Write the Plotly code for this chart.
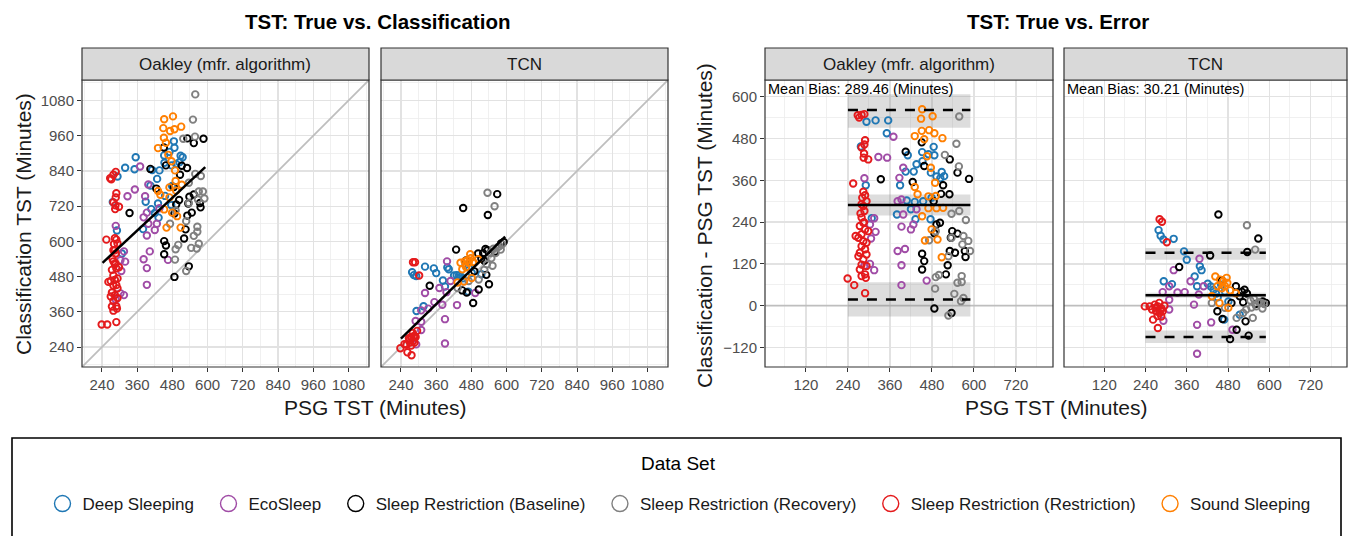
import plotly.graph_objects as go

W, H = 1355, 536

DATASETS = ["Deep Sleeping", "EcoSleep", "Sleep Restriction (Baseline)",
            "Sleep Restriction (Recovery)", "Sleep Restriction (Restriction)", "Sound Sleeping"]
COLORS = ["#1f77b4", "#a04ca6", "#000000", "#808080", "#e41a1c", "#ff7f00"]
FACETS = ["Oakley (mfr. algorithm)", "TCN"]

# ---------------- Oakley (mfr. algorithm): PSG TST and error (classification - PSG) ----------------
OAK_DEEP_PSG = [293, 319, 355, 351, 277, 485, 452, 470, 487, 411, 436, 453, 405, 428, 477, 508, 515, 493, 504,
                291, 389, 408, 431, 455, 479, 380, 420, 433, 476, 308]
OAK_DEEP_ERR = [528, 532, 532, 495, 457, 456, 441, 435, 432, 432, 406, 415, 385, 385, 382, 384, 372, 371, 366,
                346, 346, 302, 298, 300, 310, 262, 277, 248, 248, 251]
OAK_ECO_PSG = [370, 327, 352, 398, 387, 287, 382, 393, 315, 303, 319, 306, 398, 436, 427, 420, 393, 382, 403,
               393, 287, 315, 303, 393, 465]
OAK_ECO_ERR = [485, 427, 425, 396, 367, 366, 300, 305, 251, 233, 212, 193, 262, 277, 233, 219, 227, 157, 163,
               116, 115, 102, 120, 59, 72]
OAK_BASE_PSG = [451, 405, 531, 458, 553, 586, 334, 425, 512, 506, 530, 485, 503, 493, 487, 538, 534, 553, 452,
                458, 452, 531, 525, 546, 574, 576, 520, 487, 536]
OAK_BASE_ERR = [469, 442, 420, 401, 382, 364, 363, 355, 346, 321, 320, 300, 238, 233, 208, 214, 195, 207, 149,
                128, 104, 157, 116, 152, 157, 140, 90, -8, -21]
OAK_RECOV_PSG = [558, 550, 517, 557, 536, 558, 577, 491, 472, 527, 536, 570, 584, 589, 567, 565, 553, 565, 544,
                 570, 563, 489, 491, 500, 527]
OAK_RECOV_ERR = [543, 465, 433, 400, 264, 272, 246, 214, 188, 142, 195, 200, 186, 157, 176, 85, 66, 68, 34,
                 22, 13, 49, 82, 88, -28]
OAK_RESTR_PSG = [268, 279, 287, 272, 289, 287, 279, 286, 285, 298, 255, 284, 289, 293, 279,
                 284, 287, 279, 284, 274, 289, 279, 298, 270, 284, 293, 279, 289, 274, 293, 270, 284,
                 279, 293, 274, 289, 279, 291, 262, 239, 258, 289, 281, 276, 286]
OAK_RESTR_ERR = [547, 548, 550, 540, 475, 463, 454, 437, 425, 420, 351, 327, 317, 300, 291,
                 286, 272, 253, 238, 229, 219, 205, 214, 195, 185, 181, 171, 162, 152, 147, 142, 133,
                 118, 114, 104, 90, 85, 80, 200, 78, 59, 36, 310, 265, 240]
OAK_SOUND_PSG = [452, 449, 482, 431, 451, 472, 487, 458, 510, 477, 466, 431, 489, 439, 470, 491, 470, 493, 512,
                 452, 479, 460, 508, 496]
OAK_SOUND_ERR = [564, 537, 544, 487, 502, 504, 495, 478, 481, 396, 429, 341, 353, 320, 314, 315, 280, 280, 281,
                 257, 219, 187, 139, 190]

# ---------------- TCN ----------------
TCN_DEEP_PSG = [278, 284, 292, 322, 352, 360, 293, 317, 383, 403, 390, 421, 438, 450, 471, 469, 481, 514, 398,
                430, 445, 460]
TCN_DEEP_ERR = [217, 201, 190, 192, 156, 132, 70, 62, 84, 102, 56, 63, 46, 24, 41, -40, 12, -26, 113,
                55, 35, 60]
TCN_ECO_PSG = [397, 322, 309, 290, 333, 354, 309, 309, 292, 371, 381, 390, 390, 431, 493, 409, 395]
TCN_ECO_ERR = [135, 102, 56, 39, 38, 39, 17, -11, -43, 70, 3, -55, -138, -48, -69, 56, 32]
TCN_BASE_PSG = [452, 568, 536, 428, 338, 462, 503, 528, 535, 514, 490, 524, 581, 590, 449, 464, 505, 531,
                486, 540, 560, 520]
TCN_BASE_ERR = [262, 193, 154, 144, 111, 73, 56, 46, 35, 27, 8, 10, 12, 8, -16, -38, -69, -45, -96, -86,
                5, 40]
TCN_RECOV_PSG = [535, 559, 433, 471, 505, 533, 552, 562, 576, 524, 545, 585, 555, 548, 570, 580]
TCN_RECOV_ERR = [231, 161, 8, -6, -35, -11, -35, -2, 8, -21, 15, 5, 20, -5, 10, -8]
TCN_RESTR_PSG = [281, 288, 302, 238, 252, 267, 276, 286, 295, 271, 281, 290, 262, 276, 286, 259, 270, 280,
                 285, 275]
TCN_RESTR_ERR = [248, 241, 182, -2, -2, 3, -2, -7, 0, -16, -21, -16, -40, -64, -31, -11, -5, 8, -12, -30]
TCN_SOUND_PSG = [443, 457, 476, 449, 471, 486, 503, 455, 433, 481, 466, 478, 462]
TCN_SOUND_ERR = [84, 75, 80, 56, 56, 44, 36, 8, 27, -6, 70, 65, 50]

OAK_SETS = [(OAK_DEEP_PSG, OAK_DEEP_ERR), (OAK_ECO_PSG, OAK_ECO_ERR), (OAK_BASE_PSG, OAK_BASE_ERR),
            (OAK_RECOV_PSG, OAK_RECOV_ERR), (OAK_RESTR_PSG, OAK_RESTR_ERR), (OAK_SOUND_PSG, OAK_SOUND_ERR)]
TCN_SETS = [(TCN_DEEP_PSG, TCN_DEEP_ERR), (TCN_ECO_PSG, TCN_ECO_ERR), (TCN_BASE_PSG, TCN_BASE_ERR),
            (TCN_RECOV_PSG, TCN_RECOV_ERR), (TCN_RESTR_PSG, TCN_RESTR_ERR), (TCN_SOUND_PSG, TCN_SOUND_ERR)]

# regression fit lines (true vs classification)
OAK_FIT_X = [242, 592]
OAK_FIT_Y = [527, 853]
TCN_FIT_X = [240, 595]
TCN_FIT_Y = [269, 616]

# Bland-Altman summaries
MEAN_BIAS = [289.46, 30.21]
LOA_UPPER = [562, 152]
LOA_LOWER = [18, -90]
BAND_X = [240, 590]
BAND_MEAN = [(259, 319), (23, 37)]
BAND_UPPER = [(511, 607), (132, 166)]
BAND_LOWER = [(-31, 67), (-107, -71)]

TICKS_SCATTER = [240, 360, 480, 600, 720, 840, 960, 1080]
TICKS_BA_X = [120, 240, 360, 480, 600, 720]
TICKS_BA_Y = [-120, 0, 120, 240, 360, 480, 600]
RANGE_SCATTER = [172, 1150]
RANGE_BA_X = [3, 826]
RANGE_BA_Y = [-176, 648]

FONT = "Liberation Sans, Arial, Helvetica, sans-serif"
GRID = "#e2e2e2"
GRID_MINOR = "#ececec"


def px_x(p):
    return p / W


def px_y(p):
    return 1 - p / H


PANEL_TOP, PANEL_BOT = 80, 367
STRIP_TOP = 48
DOMAINS_X = [(82, 369), (381, 668), (765, 1053), (1064, 1347)]

fig = go.Figure()

names = ["", "2", "3", "4"]


def add_points(sets, ax, ay, mode):
    for i, (psg, err) in enumerate(sets):
        if mode == "class":
            yv = [p + e for p, e in zip(psg, err)]
        else:
            yv = list(err)
        fig.add_trace(go.Scatter(
            x=psg, y=yv, mode="markers", xaxis=ax, yaxis=ay, showlegend=False, hoverinfo="skip",
            marker=dict(symbol="circle-open", size=6.5, color=COLORS[i], line=dict(width=1.9, color=COLORS[i]))))


# Left: identity lines
for k, (ax, ay) in enumerate([("x", "y"), ("x2", "y2")]):
    fig.add_trace(go.Scatter(x=RANGE_SCATTER, y=RANGE_SCATTER, mode="lines", xaxis=ax, yaxis=ay,
                             line=dict(color="#bebebe", width=1.8), showlegend=False, hoverinfo="skip"))
add_points(OAK_SETS, "x", "y", "class")
add_points(TCN_SETS, "x2", "y2", "class")
fig.add_trace(go.Scatter(x=OAK_FIT_X, y=OAK_FIT_Y, mode="lines", xaxis="x", yaxis="y",
                         line=dict(color="black", width=2.5), showlegend=False, hoverinfo="skip"))
fig.add_trace(go.Scatter(x=TCN_FIT_X, y=TCN_FIT_Y, mode="lines", xaxis="x2", yaxis="y2",
                         line=dict(color="black", width=2.5), showlegend=False, hoverinfo="skip"))

# Right: Bland-Altman
for k, (ax, ay, sets) in enumerate([("x3", "y3", OAK_SETS), ("x4", "y4", TCN_SETS)]):
    fig.add_trace(go.Scatter(x=RANGE_BA_X, y=[0, 0], mode="lines", xaxis=ax, yaxis=ay,
                             line=dict(color="#bebebe", width=1.8), showlegend=False, hoverinfo="skip"))
    for lo, hi in (BAND_UPPER[k], BAND_MEAN[k], BAND_LOWER[k]):
        fig.add_trace(go.Scatter(x=[BAND_X[0], BAND_X[1], BAND_X[1], BAND_X[0], BAND_X[0]],
                                 y=[lo, lo, hi, hi, lo], mode="lines", fill="toself",
                                 fillcolor="rgba(128,128,128,0.27)", line=dict(width=0),
                                 xaxis=ax, yaxis=ay, showlegend=False, hoverinfo="skip"))
    add_points(sets, ax, ay, "err")
    fig.add_trace(go.Scatter(x=BAND_X, y=[MEAN_BIAS[k]] * 2, mode="lines", xaxis=ax, yaxis=ay,
                             line=dict(color="black", width=2.5), showlegend=False, hoverinfo="skip"))
    for v in (LOA_UPPER[k], LOA_LOWER[k]):
        fig.add_trace(go.Scatter(x=BAND_X, y=[v, v], mode="lines", xaxis=ax, yaxis=ay,
                                 line=dict(color="black", width=2.5, dash="10px,9px"),
                                 showlegend=False, hoverinfo="skip"))

# Legend-only entries
NBSP = "\u00a0"
for i, name in enumerate(DATASETS):
    fig.add_trace(go.Scatter(x=[None], y=[None], mode="markers", name=name + NBSP * 2, xaxis="x", yaxis="y",
                             marker=dict(symbol="circle-open", size=16, color=COLORS[i],
                                         line=dict(width=1.4, color=COLORS[i]))))

axis_base = dict(showgrid=True, gridcolor=GRID, gridwidth=1.3, zeroline=False, showline=False,
                 ticks="outside", ticklen=4, tickwidth=1, tickcolor="#333333",
                 tickfont=dict(family=FONT, size=15, color="#4d4d4d"), tickmode="array",
                 minor=dict(showgrid=True, gridcolor=GRID_MINOR, gridwidth=0.8, dtick=60, tick0=0,
                            tickmode="linear", ticks=""), fixedrange=True)

layout = dict(width=W, height=H, margin=dict(l=0, r=0, t=0, b=0), plot_bgcolor="white",
              paper_bgcolor="white", font=dict(family=FONT, color="black"), showlegend=True)

for k in range(4):
    d = DOMAINS_X[k]
    xa = dict(axis_base)
    ya = dict(axis_base)
    xa["domain"] = [px_x(d[0]), px_x(d[1])]
    ya["domain"] = [px_y(PANEL_BOT), px_y(PANEL_TOP)]
    xname = "xaxis" + names[k]
    yname = "yaxis" + names[k]
    xa["anchor"] = "y" + names[k]
    ya["anchor"] = "x" + names[k]
    if k < 2:
        xa.update(range=RANGE_SCATTER, tickvals=TICKS_SCATTER)
        ya.update(range=RANGE_SCATTER, tickvals=TICKS_SCATTER)
    else:
        xa.update(range=RANGE_BA_X, tickvals=TICKS_BA_X)
        ya.update(range=RANGE_BA_Y, tickvals=TICKS_BA_Y)
    if k in (1, 3):
        ya.update(showticklabels=False, ticks="")
    layout[xname] = xa
    layout[yname] = ya

shapes = []
annotations = []
for k in range(4):
    xr = "x" + names[k] + " domain"
    yr = "y" + names[k] + " domain"
    shapes.append(dict(type="rect", xref=xr, yref=yr, x0=0, x1=1, y0=0, y1=1,
                       line=dict(color="#333333", width=1.2), layer="above"))
    shapes.append(dict(type="rect", xref=xr, yref="paper", x0=0, x1=1, y0=px_y(PANEL_TOP), y1=px_y(STRIP_TOP),
                       fillcolor="#d9d9d9", line=dict(color="#333333", width=1.2)))
    annotations.append(dict(text=FACETS[k % 2], xref=xr, yref="paper", x=0.5, y=px_y((PANEL_TOP + STRIP_TOP) / 2),
                            showarrow=False, font=dict(size=17, color="#1a1a1a"), xanchor="center", yanchor="middle"))

for k in (2, 3):
    annotations.append(dict(text="Mean Bias: %.2f (Minutes)" % MEAN_BIAS[k - 2], xref="x" + names[k] + " domain",
                            yref="paper", x=0.003, y=px_y(89), xanchor="left", yanchor="middle",
                            showarrow=False, font=dict(size=14.5, color="black")))

# titles
annotations += [
    dict(text="<b>TST: True vs. Classification</b>", xref="paper", yref="paper", x=px_x(377), y=px_y(22),
         showarrow=False, font=dict(size=20.5), xanchor="center", yanchor="middle"),
    dict(text="<b>TST: True vs. Error</b>", xref="paper", yref="paper", x=px_x(1058), y=px_y(22),
         showarrow=False, font=dict(size=20.5), xanchor="center", yanchor="middle"),
    dict(text="PSG TST (Minutes)", xref="paper", yref="paper", x=px_x(375), y=px_y(407),
         showarrow=False, font=dict(size=21, color="#1a1a1a"), xanchor="center", yanchor="middle"),
    dict(text="PSG TST (Minutes)", xref="paper", yref="paper", x=px_x(1056), y=px_y(407),
         showarrow=False, font=dict(size=21, color="#1a1a1a"), xanchor="center", yanchor="middle"),
    dict(text="Classification TST (Minutes)", xref="paper", yref="paper", x=px_x(23), y=px_y(224),
         showarrow=False, font=dict(size=21, color="#1a1a1a"), textangle=-90, xanchor="center", yanchor="middle"),
    dict(text="Classification - PSG TST (Minutes)", xref="paper", yref="paper", x=px_x(704), y=px_y(225),
         showarrow=False, font=dict(size=21, color="#1a1a1a"), textangle=-90, xanchor="center", yanchor="middle"),
    dict(text="Data Set", xref="paper", yref="paper", x=px_x(678), y=px_y(463),
         showarrow=False, font=dict(size=19, color="black"), xanchor="center", yanchor="middle"),
]

# legend box
shapes.append(dict(type="rect", xref="paper", yref="paper", x0=px_x(12), x1=px_x(1341), y0=-0.1, y1=px_y(438),
                   line=dict(color="black", width=1.6), fillcolor="rgba(0,0,0,0)"))

layout["shapes"] = shapes
layout["annotations"] = annotations
layout["legend"] = dict(orientation="h", x=px_x(684), xanchor="center", y=px_y(504), yanchor="middle",
                        font=dict(size=17, color="#1a1a1a"), bgcolor="rgba(0,0,0,0)", itemsizing="trace",
                        traceorder="normal")
layout["hovermode"] = False

fig.update_layout(**layout)
fig.write_html("out.html", config={"displayModeBar": False, "staticPlot": True},
               post_script="document.body.style.margin='0px';document.body.style.overflow='hidden';")
